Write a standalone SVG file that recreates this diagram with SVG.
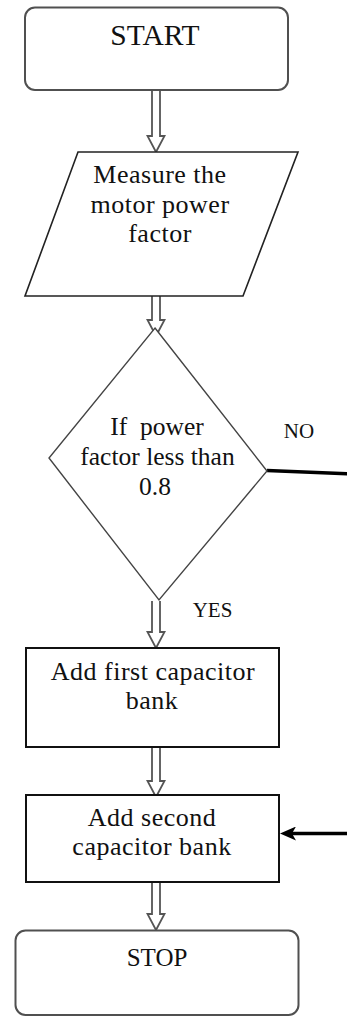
<svg xmlns="http://www.w3.org/2000/svg" width="347" height="1016" viewBox="0 0 347 1016">
<style>
  text { font-family: "Liberation Serif", "Times New Roman", serif; fill: #111; text-anchor: middle; }
  .t { font-size: 26px; letter-spacing: 0.5px; }
  .lbl { font-size: 21px; }
  .term { fill: #fff; stroke: #505050; stroke-width: 2; }
  .proc { fill: #fff; stroke: #111; stroke-width: 2; }
  .io { fill: #fff; stroke: #222; stroke-width: 1.6; }
  .dec { fill: #fff; stroke: #444; stroke-width: 1.4; }
  .blk { fill: #fff; stroke: #555; stroke-width: 1.8; stroke-linejoin: miter; }
  .thick { fill: none; stroke: #000; stroke-width: 3.5; }
</style>
<defs>
  <marker id="fillhead" markerUnits="userSpaceOnUse" viewBox="0 0 16 14" refX="6" refY="7" markerWidth="16" markerHeight="14" orient="auto">
    <path d="M0,0 L16,7 L0,14 L4,7 z" fill="#000"/>
  </marker>
</defs>

<g id="connectors">
  <path class="blk" d="M152,90 L152,136 L147.5,136 L156,152 L164.5,136 L160,136 L160,90"/>
  <path class="blk" d="M152,296 L152,320 L147.5,320 L156,336 L164.5,320 L160,320 L160,296"/>
  <path class="blk" d="M152,601 L152,632 L147.5,632 L156,648 L164.5,632 L160,632 L160,601"/>
  <path class="blk" d="M152,747 L152,781 L147.5,781 L156,797 L164.5,781 L160,781 L160,747"/>
  <path class="blk" d="M152,882 L152,914 L147.5,914 L156,930 L164.5,914 L160,914 L160,882"/>
  <path class="thick" d="M267,470.5 L356,474 L356,833.5 L290,833.5" marker-end="url(#fillhead)"/>
  <text class="lbl" x="299" y="438">NO</text>
  <text class="lbl" x="212.5" y="617">YES</text>
</g>

<g id="start">
  <rect class="term" x="25" y="7.5" width="263" height="82.5" rx="10" ry="10"/>
  <text x="155" y="45" style="font-size:29.5px">START</text>
</g>

<g id="measure">
  <polygon class="io" points="78,152 298,152 243,296 25,296"/>
  <text class="t" x="160" y="183">Measure the</text>
  <text class="t" x="160" y="213">motor power</text>
  <text class="t" x="160" y="242">factor</text>
</g>

<g id="decision">
  <polygon class="dec" points="155,328 267,471 159,600 49,458"/>
  <text x="157" y="435" style="font-size:25.5px; white-space:pre">If  power</text>
  <text x="157.5" y="465" style="font-size:25.5px">factor less than</text>
  <text x="155" y="495" style="font-size:25.5px">0.8</text>
</g>

<g id="first-bank">
  <rect class="proc" x="26" y="648" width="253" height="99"/>
  <text class="t" x="153" y="680">Add first capacitor</text>
  <text class="t" x="152" y="709">bank</text>
</g>

<g id="second-bank">
  <rect class="proc" x="26" y="795" width="253" height="87"/>
  <text class="t" x="152" y="826">Add second</text>
  <text class="t" x="152" y="855">capacitor bank</text>
</g>

<g id="stop">
  <rect class="term" x="15.5" y="930.5" width="283" height="84.5" rx="10" ry="10"/>
  <text x="157" y="966" style="font-size:25px">STOP</text>
</g>
</svg>
